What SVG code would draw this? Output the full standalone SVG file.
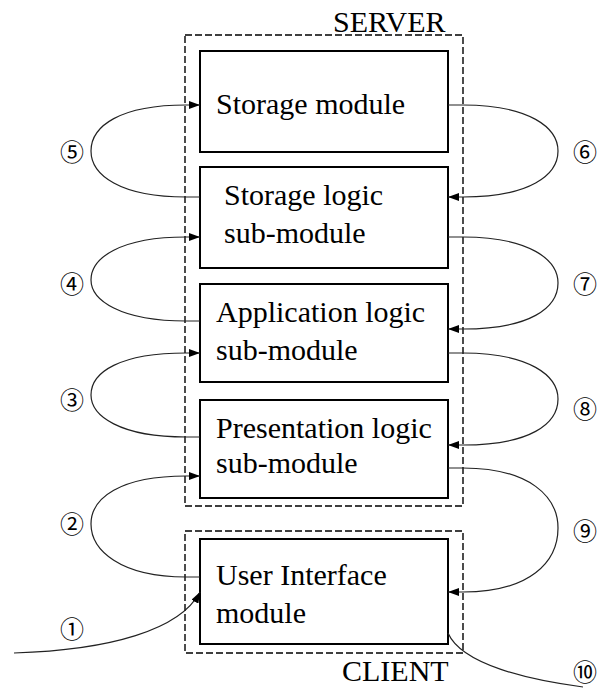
<svg xmlns="http://www.w3.org/2000/svg" width="615" height="689" viewBox="0 0 615 689">
<style>
.box{fill:#fff;stroke:#000;stroke-width:2}
.grp{fill:none;stroke:#000;stroke-width:1.4;stroke-dasharray:7,3}
.t{font-family:"Liberation Serif","Times New Roman",serif;font-size:30px;fill:#000}
.n{font-family:"Noto Sans CJK JP","DejaVu Sans",sans-serif;font-size:24px;fill:#000;text-anchor:middle;dominant-baseline:central}
.c{fill:none;stroke:#222;stroke-width:1.2}
</style>
<defs>
<marker id="ah" markerUnits="userSpaceOnUse" markerWidth="11" markerHeight="8" refX="11" refY="4" orient="auto">
<path d="M0,0 L11,4 L0,8 z" fill="#000"/>
</marker>
</defs>
<g id="server">
<rect class="grp" x="185" y="35" width="278" height="471"/>
<text class="t" x="333" y="32">SERVER</text>
</g>
<g id="client">
<rect class="grp" x="185" y="531" width="278" height="122"/>
<text class="t" x="342" y="681">CLIENT</text>
</g>
<g id="storage-module">
<rect class="box" x="200" y="51" width="248" height="101"/>
<text class="t" x="216" y="114">Storage module</text>
</g>
<g id="storage-logic">
<rect class="box" x="200" y="167" width="248" height="101"/>
<text class="t" x="224" y="205">Storage logic</text>
<text class="t" x="224" y="243">sub-module</text>
</g>
<g id="application-logic">
<rect class="box" x="200" y="284" width="248" height="98"/>
<text class="t" x="216" y="322">Application logic</text>
<text class="t" x="216" y="360">sub-module</text>
</g>
<g id="presentation-logic">
<rect class="box" x="200" y="400" width="248" height="98"/>
<text class="t" x="216" y="438">Presentation logic</text>
<text class="t" x="216" y="473">sub-module</text>
</g>
<g id="user-interface">
<rect class="box" x="200" y="539" width="248" height="105"/>
<text class="t" x="216" y="585">User Interface</text>
<text class="t" x="216" y="623">module</text>
</g>
<g id="connectors">
<path class="c" marker-end="url(#ah)" d="M200,197 L186,197 C120,197 91,175 91,151 C91,126 120,105 186,105 L200,105"/>
<path class="c" marker-end="url(#ah)" d="M448,105 L463,105 C530,105 558,128 558,151 C558,175 530,197 463,197 L448,197"/>
<path class="c" marker-end="url(#ah)" d="M200,321 L186,321 C120,321 91,300 91,280 C91,258 120,237 186,237 L200,237"/>
<path class="c" marker-end="url(#ah)" d="M448,237 L463,237 C530,237 558,260 558,283 C558,308 530,329 463,329 L448,329"/>
<path class="c" marker-end="url(#ah)" d="M200,437 L186,437 C120,437 91,416 91,395 C91,372 120,353 186,353 L200,353"/>
<path class="c" marker-end="url(#ah)" d="M448,353 L463,353 C530,353 558,376 558,399 C558,424 530,445 463,445 L448,445"/>
<path class="c" marker-end="url(#ah)" d="M200,577 L186,577 C120,577 91,550 91,524 C91,498 120,476 186,476 L200,476"/>
<path class="c" marker-end="url(#ah)" d="M448,468 L463,468 C530,468 558,497 558,528 C558,562 530,592 463,592 L448,592"/>
<path class="c" marker-end="url(#ah)" d="M14,653 C110,650 180,630 200,592"/>
<path class="c" d="M448,633 C462,665 530,680 583,687"/>
</g>
<g id="labels">
<text class="n" x="72" y="150">⑤</text>
<text class="n" x="585" y="150">⑥</text>
<text class="n" x="72" y="282">④</text>
<text class="n" x="585" y="282">⑦</text>
<text class="n" x="72" y="398">③</text>
<text class="n" x="585" y="407">⑧</text>
<text class="n" x="72" y="522">②</text>
<text class="n" x="585" y="529">⑨</text>
<text class="n" x="72" y="627">①</text>
<text class="n" x="585" y="670">⑩</text>
</g>
</svg>
